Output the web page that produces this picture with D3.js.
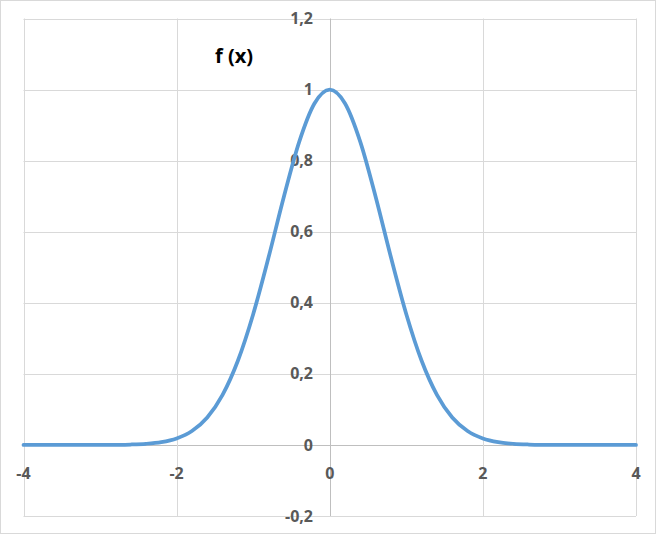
<!DOCTYPE html>
<html><head><meta charset="utf-8">
<script src="https://cdn.jsdelivr.net/npm/d3@7"></script>
<style>body{margin:0;background:#fff}</style>
</head><body>
<svg id="c" width="656" height="535"></svg>
<script>
const xValues = [-4,-3.8,-3.6,-3.4,-3.2,-3,-2.8,-2.6,-2.4,-2.2,-2,-1.8,-1.6,-1.4,-1.2,-1,-0.8,-0.6,-0.4,-0.2,0,0.2,0.4,0.6,0.8,1,1.2,1.4,1.6,1.8,2,2.2,2.4,2.6,2.8,3,3.2,3.4,3.6,3.8,4];
const yValues = [0,0,0,0,0,0.0001,0.0004,0.0012,0.0032,0.0079,0.0183,0.0392,0.0773,0.1409,0.2369,0.3679,0.5273,0.6977,0.8521,0.9608,1,0.9608,0.8521,0.6977,0.5273,0.3679,0.2369,0.1409,0.0773,0.0392,0.0183,0.0079,0.0032,0.0012,0.0004,0.0001,0,0,0,0,0];
const xTicks = [-4,-2,0,2,4];
const yTicks = [-0.2,0,0.2,0.4,0.6,0.8,1,1.2];
const title = "f (x)";

const svg = d3.select("#c");
const W = 656, H = 535;
svg.append("rect").attr("x",0.5).attr("y",0.5).attr("width",W-1).attr("height",H-2)
  .attr("fill","#fff").attr("stroke","#d9d9d9");

const x = d3.scaleLinear().domain([-4,4]).range([23.5,636]);
const y = d3.scaleLinear().domain([-0.2,1.2]).range([516,18.5]);
const fmt = v => String(+v.toFixed(1)).replace(".", ",");

const g = svg.append("g");
// grid
g.selectAll(".hg").data(yTicks).enter().append("line")
  .attr("x1",x(-4)).attr("x2",x(4))
  .attr("y1",d=>Math.round(y(d))+0.5).attr("y2",d=>Math.round(y(d))+0.5)
  .attr("stroke",d=>d===0?"#bfbfbf":"#d9d9d9").attr("stroke-width",1);
g.selectAll(".vg").data(xTicks).enter().append("line")
  .attr("y1",y(-0.2)).attr("y2",y(1.2))
  .attr("x1",d=>Math.round(x(d))+0.5).attr("x2",d=>Math.round(x(d))+0.5)
  .attr("stroke",d=>d===0?"#bfbfbf":"#d9d9d9").attr("stroke-width",1);

const font = "'Open Sans', sans-serif";
// y labels
g.selectAll(".yl").data(yTicks).enter().append("text")
  .attr("x",313).attr("y",d=>y(d)).attr("dy","0.35em")
  .attr("text-anchor","end").attr("font-family",font).attr("font-weight","bold")
  .attr("font-size","16px").attr("fill","#595959").text(fmt);
// x labels
g.selectAll(".xl").data(xTicks).enter().append("text")
  .attr("x",d=>x(d)).attr("y",473).attr("dy","0.35em")
  .attr("text-anchor","middle").attr("font-family",font).attr("font-weight","bold")
  .attr("font-size","16px").attr("fill","#595959").text(d=>String(d));

// curve
const pts = xValues.map((v,i)=>[v,yValues[i]]);
g.append("path").datum(pts)
  .attr("d", d3.line().x(d=>x(d[0])).y(d=>y(d[1])).curve(d3.curveMonotoneX))
  .attr("fill","none").attr("stroke","#5b9bd5").attr("stroke-width",3.75)
  .attr("stroke-linejoin","round").attr("stroke-linecap","round");

// title
svg.append("text").attr("x",234).attr("y",63).attr("text-anchor","middle")
  .attr("font-family",font).attr("font-weight","bold").attr("font-size","20px")
  .attr("fill","#000").text(title);
</script>
</body></html>
